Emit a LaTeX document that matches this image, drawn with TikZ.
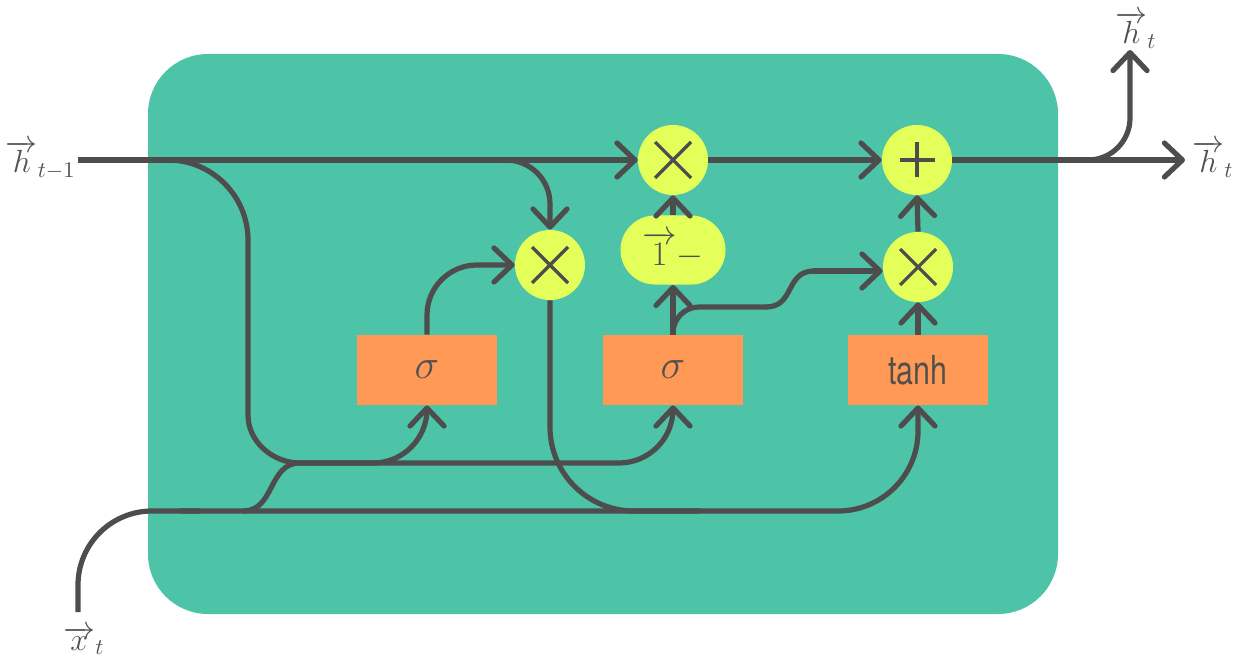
\RequirePackage{fix-cm}
\documentclass[tikz,border=0pt]{standalone}
\usepackage{fontspec}
\newfontfamily\gatefont[FakeStretch=0.76]{TeX Gyre Heros}
\usetikzlibrary{arrows.meta,shapes.misc}
\definecolor{cellbg}{RGB}{77,195,168}
\definecolor{gatebg}{RGB}{255,153,85}
\definecolor{opbg}{RGB}{229,255,90}
\definecolor{wirec}{RGB}{77,77,77}
\definecolor{ink}{RGB}{80,80,80}
\tikzset{
  wire/.style={draw=wirec, line width=2.6pt},
  flow/.style={wire, -{Straight Barb[length=9pt,width=17pt,line cap=round,line join=round]}},
  sym/.style={draw=wirec, line width=1.6pt},
  op/.style={circle, fill=opbg, minimum size=35pt, inner sep=0pt},
  gatebox/.style={rectangle, fill=gatebg, minimum width=70pt, minimum height=35pt, inner sep=0pt, text=ink, font=\huge},
  pill/.style={rounded rectangle, fill=opbg, minimum width=52.5pt, minimum height=34.5pt, inner sep=0pt, text=ink, font=\LARGE},
  lab/.style={text=ink, font=\fontsize{16}{19}\selectfont, inner sep=0pt},
}
\begin{document}
\begin{tikzpicture}[x=0.5pt,y=-0.5pt]
\useasboundingbox (0,0) rectangle (1235,668);

% cell body
\fill[cellbg, rounded corners=30pt] (148,54) rectangle (1058,614);

% operators and gates
\node[op] (mA) at (673,160) {};
\node[op] (add) at (917,160) {};
\node[op] (mR) at (550,265) {};
\node[op] (mB) at (918,267) {};
\node[pill] (inv) at (673,250) {$\overrightarrow{1}-$};
\node[gatebox] (sR) at (427,370) {$\sigma$};
\node[gatebox] (sZ) at (673,370) {$\sigma$};
\node[gatebox] (th) at (918,370) {\fontsize{20}{24}\gatefont tanh};

% operator symbols
\foreach \n in {mA,mR,mB}
  \draw[sym] ([shift={(-18,-18)}]\n.center) -- ([shift={(18,18)}]\n.center)
             ([shift={(-18,18)}]\n.center) -- ([shift={(18,-18)}]\n.center);
\draw[sym] ([shift={(-17.5,0)}]add.center) -- ([shift={(17.5,0)}]add.center)
           ([shift={(0,-17.5)}]add.center) -- ([shift={(0,17.5)}]add.center);

% free ends
\coordinate (hin) at (78,160);
\coordinate (hout) at (1185,160);
\coordinate (hup) at (1130,50);
\coordinate (xin) at (78,612);
\coordinate (splitOut) at (1080,160);
\coordinate (splitR) at (500,160);
\coordinate (splitH) at (150,160);
\coordinate (hBus) at (330,463);
\coordinate (busL) at (300,463);
\coordinate (xBus) at (200,511);
\coordinate (xBusL) at (180,511);
\coordinate (sBot) at (243,511);
\coordinate (mRjoin) at (700,511);

% labels
\node[lab, anchor=base east] (lhin) at (76,173) {$\overrightarrow{h}_{t-1}$};
\node[lab, anchor=base west] (lhout) at (1192,173) {$\overrightarrow{h}_{t}$};
\node[lab, anchor=base west] (lhup) at (1115,44) {$\overrightarrow{h}_{t}$};
\node[lab, anchor=base west] (lx) at (63,650) {$\overrightarrow{x}_{t}$};

% hidden state line
\draw[flow] (hin) -- (mA.west);
\draw[flow] (mA.east) -- (add.west);
\draw[flow] (add.east) -- (hout);
\draw[flow, rounded corners=21pt] (splitOut) -| (hup);
\draw[flow, rounded corners=22pt] (splitR) -| (mR.north);

% previous state into the gates: two quarter bends
\draw[wire] (splitH) -- (168,160) .. controls (212,160) and (248,196) .. (248,240)
            -- (248,415) .. controls (248,442) and (273,463) .. (busL) -- (hBus);
\draw[flow, rounded corners=27pt] (busL) -| (sZ.south);
\draw[flow, rounded corners=27pt] (hBus) -| (sR.south);

% input
\draw[wire, rounded corners=37pt] (xin) |- (xBus);
\draw[flow, rounded corners=40pt] (xBusL) -| (th.south);
\draw[wire] (sBot) .. controls (275,511) and (268,463) .. (busL);

% reset branch
\draw[wire, rounded corners=42pt] (mR.south) |- (mRjoin);
\draw[flow, rounded corners=25pt] (sR.north) |- (mR.west);

% update gate
\draw[flow] (sZ.north) -- (inv.south);
\draw[flow] (inv.north) -- (mA.south);
\draw[wire, rounded corners=13pt] (sZ.north) |- (767,307);
\draw[wire] (766,307) .. controls (795,307) and (785,271) .. (814,271);
\draw[flow] (813,271) -- (mB.west |- 0,271);

% candidate
\draw[flow] (th.north) -- (mB.south);
\draw[flow] (mB.north) -- (add.south);
\end{tikzpicture}
\end{document}
